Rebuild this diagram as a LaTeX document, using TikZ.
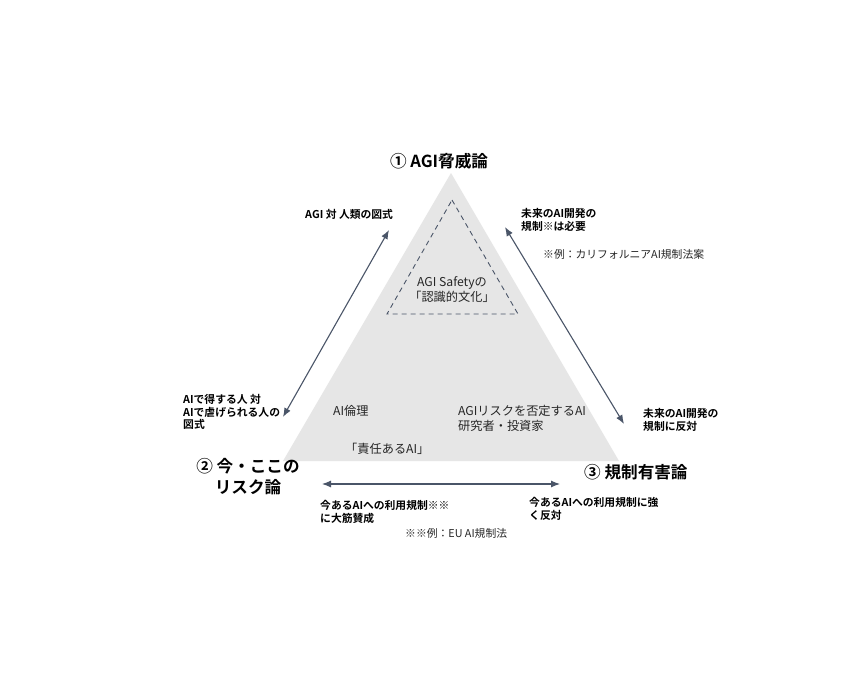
\documentclass[tikz,border=0pt]{standalone}
\usepackage{fontspec}
\setmainfont{Noto Sans CJK JP}
\newfontfamily\jpb{Noto Sans CJK JP Bold}
\usetikzlibrary{arrows.meta}
\definecolor{tri}{HTML}{E6E6E6}
\definecolor{arr}{HTML}{4A5568}
\tikzset{
  lbl/.style={inner sep=0pt, font=\fontsize{12.2}{15}\selectfont, align=left, text=black!85},
  nlbl/.style={inner sep=0pt, font=\fontsize{10.8}{13.5}\selectfont, align=left, text=black!85},
  blbl/.style={inner sep=0pt, font=\jpb\fontsize{10.8}{13.5}\selectfont, align=left, text=black},
  vlbl/.style={inner sep=0pt, font=\jpb\fontsize{16.6}{21}\selectfont, align=center, text=black},
  dbl/.style={draw=arr, line width=1.1pt, {Latex[length=9pt,width=7pt]}-{Latex[length=9pt,width=7pt]}},
}
\begin{document}
\begin{tikzpicture}[x=1pt,y=-1pt]
\path[fill=white] (0,0) rectangle (863,681);
\useasboundingbox (0,0) rectangle (863,681);
% main triangle
\fill[tri] (451,173) -- (619,461) -- (283,461) -- cycle;
% dashed inner triangle
\draw[arr, dashed, line width=0.9pt, dash pattern=on 5pt off 4pt] (452,200) -- (518,314) -- (387,314) -- cycle;
% vertex labels
\node[vlbl] (v1) at (439,161) {① AGI脅威論};
\node[vlbl] (v2) at (248,477) {② 今・ここの\\リスク論};
\node[vlbl, anchor=west] (v3) at (584,472) {③ 規制有害論};
% arrow endpoints
\coordinate (la) at (389,230);
\coordinate (lb) at (283,417);
\coordinate (ra) at (505,227);
\coordinate (rb) at (624,424);
\coordinate (ba) at (322,484);
\coordinate (bb) at (560,484);
\draw[dbl] (la) -- (lb);
\draw[dbl] (ra) -- (rb);
\draw[dbl] (ba) -- (bb);
% labels
\node[blbl, anchor=west] (t1) at (305,214) {AGI 対 人類の図式};
\node[blbl, anchor=west] (t2) at (521,220) {未来のAI開発の\\規制※は必要};
\node[nlbl, anchor=west] (t3) at (543,254) {※例：カリフォルニアAI規制法案};
\node[blbl, anchor=west, font=\jpb\fontsize{10.8}{12.6}\selectfont] (t4) at (183,412) {AIで得する人 対\\AIで虐げられる人の\\図式};
\node[lbl, anchor=west] (t5) at (333,411) {AI倫理};
\node[lbl, anchor=west] (t6) at (458,418) {AGIリスクを否定するAI\\研究者・投資家};
\node[lbl, anchor=west] (t7) at (345,449) {「責任あるAI」};
\node[lbl, align=center] (t8) at (452,290) {AGI Safetyの\\「認識的文化」};
\node[blbl, anchor=west] (t9) at (643,420) {未来のAI開発の\\規制に反対};
\node[blbl, anchor=west] (t10) at (320,512) {今あるAIへの利用規制※※\\に大筋賛成};
\node[blbl, anchor=west] (t11) at (529,509) {今あるAIへの利用規制に強\\く反対};
\node[nlbl, anchor=west] (t12) at (405,533) {※※例：EU AI規制法};
\end{tikzpicture}
\end{document}
